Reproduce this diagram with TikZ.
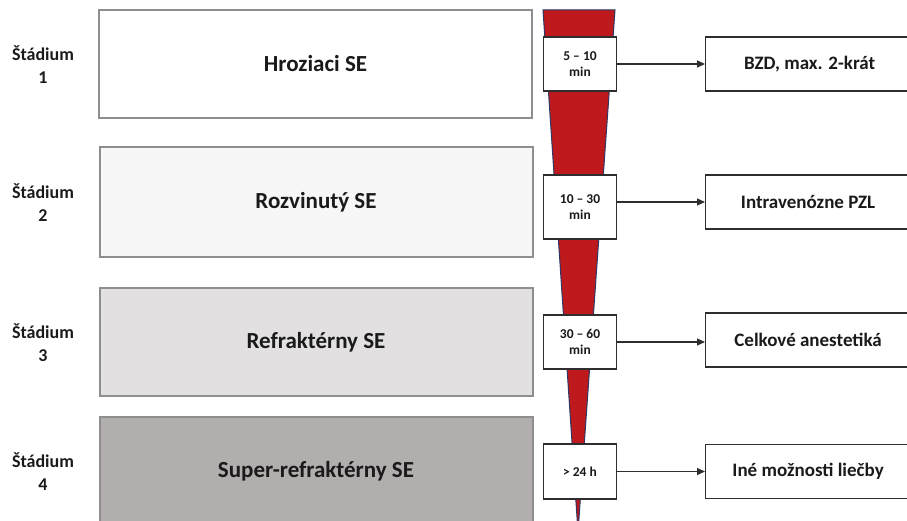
\documentclass[tikz,border=0pt]{standalone}
\usepackage{fontspec}
\setmainfont{Carlito}
\usetikzlibrary{arrows.meta,positioning}
\definecolor{stageline}{HTML}{8E8E8E}
\definecolor{boxline}{HTML}{2E2E2E}
\definecolor{wedgered}{HTML}{BE191C}
\definecolor{wedgeline}{HTML}{2C3866}
\definecolor{fillb}{HTML}{F7F7F7}
\definecolor{fillc}{HTML}{E2E0E1}
\definecolor{filld}{HTML}{B2AEAD}
\definecolor{textcol}{HTML}{1A1A1A}

\begin{document}
\begin{tikzpicture}[x=1pt, y=-1pt, text=textcol,
    stage node/.style={draw=stageline, line width=2pt, inner sep=0pt, minimum width=433pt, font=\bfseries\fontsize{23}{27}\selectfont},
    label node/.style={align=center, font=\bfseries\fontsize{18}{23}\selectfont},
    time node/.style={draw=boxline, fill=white, line width=1.2pt, inner sep=0pt, minimum width=73pt, align=center, font=\bfseries\fontsize{13.5}{16.5}\selectfont},
    therapy node/.style={draw=boxline, line width=1.2pt, inner sep=0pt, minimum width=205pt, minimum height=54pt, anchor=west, font=\bfseries\fontsize{19}{22}\selectfont},
    arrow/.style={-{Triangle[length=8pt,width=7pt]}, line width=1.2pt, draw=boxline}]
    \clip (0,0) rectangle (907,521);

    % stages
    \node[stage node, fill=white, minimum height=108pt] (s1) at (315.5,64) {Hroziaci SE};
    \node[stage node, fill=fillb, minimum height=110pt] (s2) at (316,202) {Rozvinutý SE};
    \node[stage node, fill=fillc, minimum height=108pt] (s3) at (316,342) {Refraktérny SE};
    \node[stage node, fill=filld, minimum height=108pt] (s4) at (316,471) {Super-refraktérny SE};

    \node[label node] (l1) at (43,65) {Štádium\\1};
    \node[label node] (l2) at (43,203) {Štádium\\2};
    \node[label node] (l3) at (43,343) {Štádium\\3};
    \node[label node] (l4) at (43,472) {Štádium\\4};

    % time wedge
    \filldraw[fill=wedgered, draw=wedgeline, line width=1pt] (543,10) -- (615,10) -- (578,532) -- cycle;

    \node[time node, minimum height=54pt] (t1) at (580,64) {5 – 10\\min};
    \node[time node, minimum height=64pt] (t2) at (580,207) {10 – 30\\min};
    \node[time node, minimum height=54pt] (t3) at (580,342) {30 – 60\\min};
    \node[time node, minimum height=55pt] (t4) at (580,471.5) {> 24 h};

    % therapy
    \node[therapy node] (r1) at (705,64) {\hspace*{3pt}BZD, max. 2-krát};
    \node[therapy node] (r2) at (705,202) {Intravenózne PZL};
    \node[therapy node] (r3) at (705,340) {Celkové anestetiká};
    \node[therapy node] (r4) at (705,471.5) {Iné možnosti liečby};

    \draw[arrow] (t1) -- (r1);
    \draw[arrow] (t2.east |- r2.west) -- (r2);
    \draw[arrow] (t3) -- (r3.west |- t3.east);
    \draw[arrow] (t4) -- (r4);
\end{tikzpicture}
\end{document}
